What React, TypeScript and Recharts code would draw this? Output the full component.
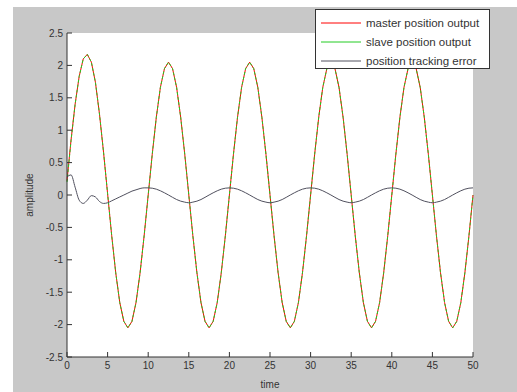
import { LineChart, Line, XAxis, YAxis, CartesianGrid } from "recharts";

// sample times (s)
const time = [
  0, 0.5, 1, 1.5, 2, 2.5, 3, 3.5, 4, 4.5, 5, 5.5, 6, 6.5, 7, 7.5, 8, 8.5, 9, 9.5,
  10, 10.5, 11, 11.5, 12, 12.5, 13, 13.5, 14, 14.5, 15, 15.5, 16, 16.5, 17, 17.5, 18, 18.5, 19, 19.5,
  20, 20.5, 21, 21.5, 22, 22.5, 23, 23.5, 24, 24.5, 25, 25.5, 26, 26.5, 27, 27.5, 28, 28.5, 29, 29.5,
  30, 30.5, 31, 31.5, 32, 32.5, 33, 33.5, 34, 34.5, 35, 35.5, 36, 36.5, 37, 37.5, 38, 38.5, 39, 39.5,
  40, 40.5, 41, 41.5, 42, 42.5, 43, 43.5, 44, 44.5, 45, 45.5, 46, 46.5, 47, 47.5, 48, 48.5, 49, 49.5,
  50,
];

const master = [
  0.22, 0.85, 1.4, 1.83, 2.1, 2.17, 2.05, 1.74, 1.25, 0.66, 0.02, -0.62, -1.2, -1.66, -1.95, -2.05, -1.95, -1.66, -1.2, -0.63,
  0, 0.63, 1.2, 1.66, 1.95, 2.05, 1.95, 1.66, 1.2, 0.63, 0, -0.63, -1.2, -1.66, -1.95, -2.05, -1.95, -1.66, -1.2, -0.63,
  0, 0.63, 1.2, 1.66, 1.95, 2.05, 1.95, 1.66, 1.2, 0.63, 0, -0.63, -1.2, -1.66, -1.95, -2.05, -1.95, -1.66, -1.2, -0.63,
  0, 0.63, 1.2, 1.66, 1.95, 2.05, 1.95, 1.66, 1.2, 0.63, 0, -0.63, -1.2, -1.66, -1.95, -2.05, -1.95, -1.66, -1.2, -0.63,
  0, 0.63, 1.2, 1.66, 1.95, 2.05, 1.95, 1.66, 1.2, 0.63, 0, -0.63, -1.2, -1.66, -1.95, -2.05, -1.95, -1.66, -1.2, -0.63,
  0,
];

const slave = [
  0.2, 0.84, 1.4, 1.83, 2.1, 2.17, 2.05, 1.74, 1.25, 0.66, 0.02, -0.62, -1.2, -1.66, -1.95, -2.05, -1.95, -1.66, -1.2, -0.63,
  0, 0.63, 1.2, 1.66, 1.95, 2.05, 1.95, 1.66, 1.2, 0.63, 0, -0.63, -1.2, -1.66, -1.95, -2.05, -1.95, -1.66, -1.2, -0.63,
  0, 0.63, 1.2, 1.66, 1.95, 2.05, 1.95, 1.66, 1.2, 0.63, 0, -0.63, -1.2, -1.66, -1.95, -2.05, -1.95, -1.66, -1.2, -0.63,
  0, 0.63, 1.2, 1.66, 1.95, 2.05, 1.95, 1.66, 1.2, 0.63, 0, -0.63, -1.2, -1.66, -1.95, -2.05, -1.95, -1.66, -1.2, -0.63,
  0, 0.63, 1.2, 1.66, 1.95, 2.05, 1.95, 1.66, 1.2, 0.63, 0, -0.63, -1.2, -1.66, -1.95, -2.05, -1.95, -1.66, -1.2, -0.63,
  0,
];

const trackingError = [
  0.28, 0.31, 0.12, -0.08, -0.13, -0.08, -0.01, -0.03, -0.1, -0.13, -0.12, -0.09, -0.06, -0.03, 0, 0.03, 0.06, 0.08, 0.1, 0.11,
  0.11, 0.105, 0.09, 0.065, 0.034, 0, -0.036, -0.07, -0.095, -0.11, -0.12, -0.11, -0.095, -0.07, -0.036, 0, 0.034, 0.065, 0.09, 0.105,
  0.11, 0.105, 0.09, 0.065, 0.034, 0, -0.036, -0.07, -0.095, -0.11, -0.12, -0.11, -0.095, -0.07, -0.036, 0, 0.034, 0.065, 0.09, 0.105,
  0.11, 0.105, 0.09, 0.065, 0.034, 0, -0.036, -0.07, -0.095, -0.11, -0.12, -0.11, -0.095, -0.07, -0.036, 0, 0.034, 0.065, 0.09, 0.105,
  0.11, 0.105, 0.09, 0.065, 0.034, 0, -0.036, -0.07, -0.095, -0.11, -0.12, -0.11, -0.095, -0.07, -0.036, 0, 0.034, 0.065, 0.09, 0.105,
  0.11,
];

const xTicks = [0, 5, 10, 15, 20, 25, 30, 35, 40, 45, 50];
const yTicks = [-2.5, -2, -1.5, -1, -0.5, 0, 0.5, 1, 1.5, 2, 2.5];

const seriesNames = ["master position output", "slave position output", "position tracking error"];
const seriesColors = ["#ff0000", "#22cc22", "#50505e"];

const rows = time.map((t, i) => ({
  t,
  master: master[i],
  slave: slave[i],
  error: trackingError[i],
}));

const font = "'Liberation Sans', Arial, sans-serif";
const tickStyle = { fontSize: 10, fill: "#333", fontFamily: font };

function LegendBox() {
  return (
    <div
      style={{
        position: "absolute",
        left: 315,
        top: 9,
        boxSizing: "border-box",
        width: 175,
        height: 60,
        background: "#fff",
        border: "1px solid #333",
        padding: "3px 0 0 5px",
        fontFamily: font,
        fontSize: 11.5,
        color: "#333",
      }}
    >
      {seriesNames.map((name, i) => (
        <div key={name} style={{ display: "flex", alignItems: "center", height: 19 }}>
          <svg width={40} height={4} style={{ marginRight: 5 }}>
            <line x1={0} y1={2} x2={40} y2={2} stroke={seriesColors[i]} strokeWidth={1} />
          </svg>
          <span>{name}</span>
        </div>
      ))}
    </div>
  );
}

export default function App() {
  return (
    <div style={{ position: "relative", width: 517, height: 392, background: "#fff", overflow: "hidden" }}>
      <style>{"body{margin:0}"}</style>
      <div style={{ position: "absolute", left: 13, top: 7, right: 0, bottom: 0, background: "#c8c8c8" }} />
      <div style={{ position: "absolute", left: 0, top: 0 }}>
        <LineChart width={517} height={392} data={rows} margin={{ top: 33, right: 44, bottom: 0, left: 27 }}>
          <CartesianGrid horizontal={false} vertical={false} fill="#ffffff" stroke="none" />
          <XAxis
            dataKey="t"
            type="number"
            domain={[0, 50]}
            ticks={xTicks}
            height={35}
            tickSize={-5}
            tickMargin={10}
            tick={tickStyle}
            stroke="#333"
            label={{ value: "time", position: "insideBottom", offset: 4, fontSize: 10, fill: "#333", fontFamily: font }}
          />
          <YAxis
            type="number"
            domain={[-2.5, 2.5]}
            ticks={yTicks}
            width={40}
            tickSize={-5}
            tickMargin={9}
            tick={tickStyle}
            stroke="#333"
            label={{ value: "amplitude", angle: -90, position: "insideLeft", offset: 2, fontSize: 10, fill: "#333", fontFamily: font, style: { textAnchor: "middle" } }}
          />
          <Line name={seriesNames[0]} dataKey="master" type="linear" stroke={seriesColors[0]} strokeWidth={1} dot={false} isAnimationActive={false} />
          <Line name={seriesNames[1]} dataKey="slave" type="linear" stroke={seriesColors[1]} strokeWidth={1} strokeDasharray="3 2" dot={false} isAnimationActive={false} />
          <Line name={seriesNames[2]} dataKey="error" type="monotone" stroke={seriesColors[2]} strokeWidth={1} dot={false} isAnimationActive={false} />
        </LineChart>
      </div>
      <LegendBox />
    </div>
  );
}
